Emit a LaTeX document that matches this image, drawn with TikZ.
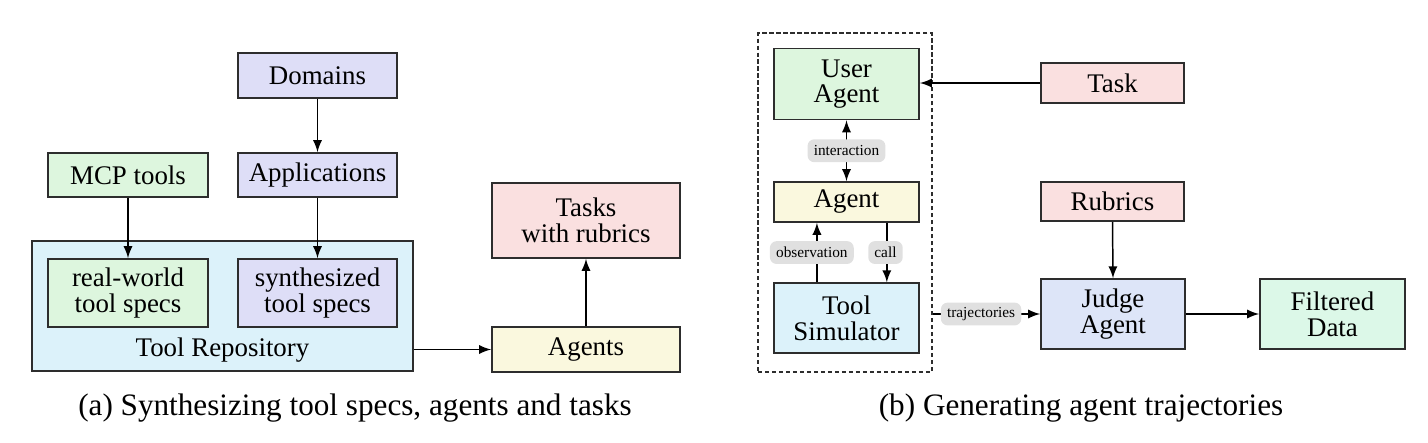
\documentclass[tikz,border=0pt]{standalone}
\usepackage{fontspec}
\setmainfont{Liberation Serif}
\usetikzlibrary{arrows}

\definecolor{lavender}{RGB}{222,222,247}
\definecolor{mint}{RGB}{221,246,222}
\definecolor{icecyan}{RGB}{220,242,250}
\definecolor{rosepink}{RGB}{250,224,224}
\definecolor{cream}{RGB}{250,248,222}
\definecolor{skyblue}{RGB}{221,229,248}
\definecolor{seagreen}{RGB}{220,248,232}
\definecolor{pill}{RGB}{224,224,224}
\definecolor{edge}{RGB}{45,45,45}

\tikzset{
	box/.style={draw=edge, line width=0.6pt, align=center, inner sep=0pt,
		font=\fontsize{10}{9.6}\selectfont},
	pillbox/.style={fill=pill, rounded corners=2.5pt, inner xsep=2.3pt, inner ysep=0pt,
		minimum height=8.5pt, font=\fontsize{5.7}{6}\selectfont},
	link/.style={->, line width=0.55pt, draw=black}
}

\begin{document}
\begin{tikzpicture}[>=latex, x=0.372pt, y=-0.372pt]
	\useasboundingbox (0,0) rectangle (1428,442);

	% (a) synthesizing
	\node (domains) [box, fill=lavender, minimum width=59pt, minimum height=16.7pt] at (317.5,75.5) {Domains};
	\node (apps) [box, fill=lavender, minimum width=59pt, minimum height=16.4pt] at (317.5,175) {Applications};
	\node (mcp) [box, fill=mint, minimum width=59.5pt, minimum height=16.4pt] at (128,175) {MCP tools};
	\node (repo) [box, fill=icecyan, minimum width=141.7pt, minimum height=48.4pt] at (222.5,306) {};
	\node (repotext) [font=\fontsize{10}{10}\selectfont, inner sep=0pt] at (222.5,350) {Tool Repository};
	\node (real) [box, fill=mint, minimum width=59.5pt, minimum height=25.3pt] at (128,293) {real-world\\tool specs};
	\node (synth) [box, fill=lavender, minimum width=59pt, minimum height=25.3pt] at (317.5,293) {synthesized\\tool specs};
	\node (tasks) [box, fill=rosepink, minimum width=70pt, minimum height=27.9pt] at (586,220.5) {Tasks\\with rubrics};
	\node (agents) [box, fill=cream, minimum width=70pt, minimum height=16.7pt] at (586,349.5) {Agents};
	\draw [link] (domains.south)--(apps.north);
	\draw [link] (apps.south)--(synth.north);
	\draw [link] (mcp.south)--(real.north);
	\draw [link] (agents.west -| repo.east)--(agents.west);
	\draw [link] (agents.north)--(tasks.south);

	% (b) trajectories
	\node (frame) [draw=edge, line width=0.6pt, dash pattern=on 1.6pt off 1pt, minimum width=64.7pt, minimum height=126pt] at (845,202.5) {};
	\node (user) [box, fill=mint, minimum width=54pt, minimum height=26.4pt] at (846.5,84) {User\\Agent};
	\node (agent) [box, fill=cream, minimum width=54pt, minimum height=14.9pt] at (846.5,202) {Agent};
	\node (toolsim) [box, fill=icecyan, minimum width=54pt, minimum height=26pt] at (846.5,318) {Tool\\Simulator};
	\node (task) [box, fill=rosepink, minimum width=53.2pt, minimum height=14.9pt] at (1112.5,83) {Task};
	\node (rubrics) [box, fill=rosepink, minimum width=53.2pt, minimum height=14.5pt] at (1112.5,201.5) {Rubrics};
	\node (judge) [box, fill=skyblue, minimum width=53.6pt, minimum height=26pt] at (1113,314) {Judge\\Agent};
	\node (filtered) [box, fill=seagreen, minimum width=54pt, minimum height=26pt] at (1332.5,314) {Filtered\\Data};
	\draw [link] (task.west)--(task.west -| user.east);
	\draw [link, <->] (user.south)--(agent.north) node[pillbox, midway] {interaction};
	\draw [link] ([xshift=-11pt]toolsim.north)--([xshift=-11pt]agent.south) node[pillbox, midway, xshift=-1.9pt] {observation};
	\draw [link] ([xshift=15pt]agent.south)--([xshift=15pt]toolsim.north) node[pillbox, midway, xshift=-0.5pt] {call};
	\draw [link] (judge.west -| frame.east)--(judge.west) node[pillbox, midway, xshift=-2pt] {trajectories};
	\draw [link] (rubrics.south)--(judge.north);
	\draw [link] (judge.east)--(filtered.west);

	% captions
	\node (capa) [font=\fontsize{11.6}{12}\selectfont] at (355,408) {(a) Synthesizing tool specs, agents and tasks};
	\node (capb) [font=\fontsize{11.6}{12}\selectfont] at (1081,408) {(b) Generating agent trajectories};
\end{tikzpicture}
\end{document}
